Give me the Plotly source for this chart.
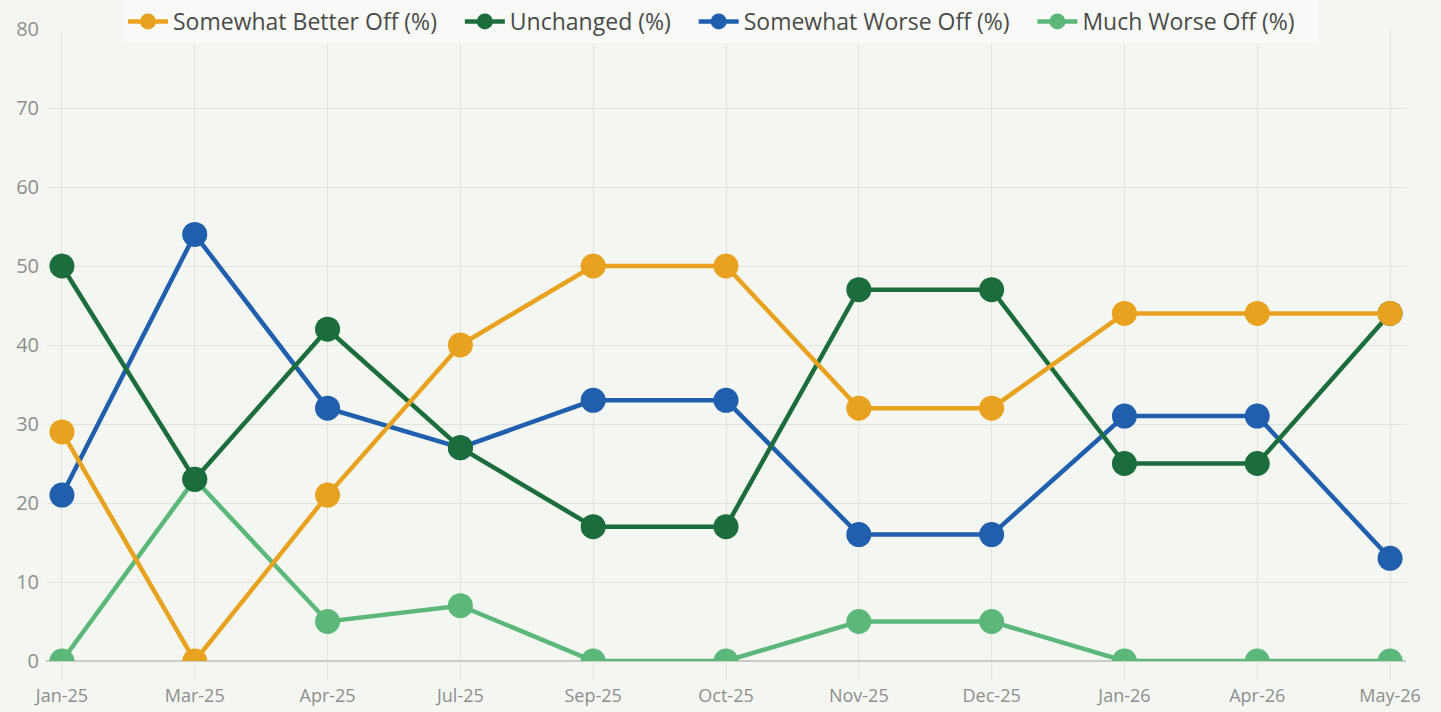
import plotly.graph_objects as go

categories = ["Jan-25", "Mar-25", "Apr-25", "Jul-25", "Sep-25", "Oct-25",
              "Nov-25", "Dec-25", "Jan-26", "Apr-26", "May-26"]
better = [29, 0, 21, 40, 50, 50, 32, 32, 44, 44, 44]
unchanged = [50, 23, 42, 27, 17, 17, 47, 47, 25, 25, 44]
worse = [21, 54, 32, 27, 33, 33, 16, 16, 31, 31, 13]
much_worse = [0, 23, 5, 7, 0, 0, 5, 5, 0, 0, 0]
y_ticks = [0, 10, 20, 30, 40, 50, 60, 70, 80]

series = [
    ("Much Worse Off (%)", much_worse, "#5bb879", 4),
    ("Somewhat Worse Off (%)", worse, "#1f5fae", 3),
    ("Unchanged (%)", unchanged, "#1b6d3c", 2),
    ("Somewhat Better Off (%)", better, "#e8a21f", 1),
]

FONT = "Open Sans, Roboto, sans-serif"
BG = "#f4f7f1"
GRID = "#e1e3de"
PAD = "\u00a0" * 3
W, H = 1441, 712
MARGIN = dict(l=46, r=35, t=29, b=51)
PLOT_H = H - MARGIN["t"] - MARGIN["b"]
MARKER = 25

fig = go.Figure()
for name, vals, color, rank in series:
    fig.add_trace(go.Scatter(
        x=categories, y=vals, name=name + PAD, mode="lines+markers",
        line=dict(color=color, width=4.5),
        marker=dict(color=color, size=MARKER, line=dict(width=0)),
        legendrank=rank, cliponaxis=True,
    ))

# mask below the plot area so markers sitting on the baseline are clipped
fig.add_shape(
    type="rect", xref="paper", yref="paper", layer="above",
    x0=0, x1=1, y0=-(MARKER / 2 + 3) / PLOT_H, y1=-1.5 / PLOT_H,
    fillcolor=BG, line=dict(width=0),
)
# category tick marks below the baseline
for c in categories:
    fig.add_shape(
        type="line", xref="x", yref="paper", layer="above",
        x0=c, x1=c, y0=0, y1=-19 / PLOT_H,
        line=dict(color=GRID, width=1),
    )

fig.update_layout(
    width=W, height=H,
    paper_bgcolor=BG, plot_bgcolor=BG,
    margin=dict(**MARGIN, autoexpand=False),
    font=dict(family=FONT, color="#8c8c8c"),
    showlegend=True,
    legend=dict(
        orientation="h", xref="container", yref="container",
        x=0.5, xanchor="center", y=1.0, yanchor="top",
        bgcolor="#f9faf7", font=dict(size=23, color="#4a4a4a", family=FONT),
        itemwidth=40, tracegroupgap=0,
    ),
    xaxis=dict(
        type="category", range=[-0.12, 10.12],
        showgrid=True, gridcolor=GRID, gridwidth=1,
        ticks="", ticklabelstandoff=22,
        tickfont=dict(size=18, color="#8e8e8e"),
        showline=False, zeroline=False, fixedrange=True,
    ),
    yaxis=dict(
        range=[0, 80], tickvals=y_ticks,
        showgrid=True, gridcolor=GRID, gridwidth=1,
        ticks="", ticklabelstandoff=6,
        tickfont=dict(size=20, color="#8e8e8e"),
        showline=False, zeroline=True, zerolinecolor="#c9cbc6", zerolinewidth=2,
        fixedrange=True,
    ),
)

fig.write_html(
    "out.html",
    config={"displayModeBar": False},
    post_script="document.body.style.margin='0';document.body.style.background='%s';" % BG,
)
